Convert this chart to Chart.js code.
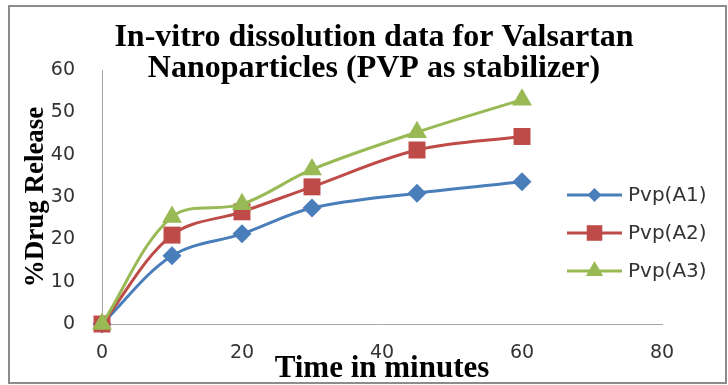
<!DOCTYPE html>
<html>
<head>
<meta charset="utf-8">
<script src="https://cdn.jsdelivr.net/npm/chart.js@4.4.1/dist/chart.umd.min.js"></script>
<style>
  html, body { margin: 0; padding: 0; background: #fff; }
  #wrap { width: 728px; height: 385px; position: relative; }
</style>
</head>
<body>
<div id="wrap"><canvas id="dissolution"></canvas></div>
<script>
// ---- data ----
const minutes = [0, 10, 20, 30, 45, 60];
const pvpA1 = [0, 16.1, 21.3, 27.4, 30.9, 33.6];
const pvpA2 = [0, 21.0, 26.5, 32.4, 41.1, 44.3];
const pvpA3 = [0, 25.3, 28.3, 36.5, 45.3, 53.0];
const seriesNames = ['Pvp(A1)', 'Pvp(A2)', 'Pvp(A3)'];
const titleLines = ['In-vitro dissolution data for Valsartan', 'Nanoparticles (PVP as stabilizer)'];

const BLUE = '#4a7ebb';
const RED = '#be4b48';
const GREEN = '#98b954';
const SERIF = '"Liberation Serif", "Times New Roman", serif';
const SANS = '"DejaVu Sans", sans-serif';

const toXY = ys => ys.map((y, i) => ({ x: minutes[i], y }));

const styles = [
  { color: BLUE, pointStyle: 'rectRot', radius: 9.5, legendRadius: 7 },
  { color: RED, pointStyle: 'rect', radius: 12, legendRadius: 11 },
  { color: GREEN, pointStyle: 'triangle', radius: 11.5, legendRadius: 10 },
];

const datasets = [pvpA1, pvpA2, pvpA3].map((ys, i) => ({
  label: seriesNames[i],
  data: toXY(ys),
  borderColor: styles[i].color,
  backgroundColor: styles[i].color,
  borderWidth: 3,
  tension: 0.35,
  pointStyle: styles[i].pointStyle,
  pointRadius: styles[i].radius,
  pointBorderWidth: 0,
  pointHoverRadius: styles[i].radius,
  clip: false,
  order: 3 - i,
}));

// title, legend and outer frame are drawn by hand so they can sit over the plot
const decorations = {
  id: 'decorations',
  afterDraw(chart) {
    const c = chart.ctx;
    c.save();

    c.strokeStyle = '#8c8c8c';
    c.lineWidth = 2;
    c.strokeRect(9, 6, 717, 377);

    c.fillStyle = '#000';
    c.font = 'bold 32px ' + SERIF;
    c.textAlign = 'center';
    c.textBaseline = 'middle';
    c.fillText(titleLines[0], 374, 38);
    c.fillText(titleLines[1], 374, 69);

    const rowY = [195, 233, 271];
    c.font = '20px ' + SANS;
    c.textAlign = 'left';
    chart.data.datasets.forEach((ds, i) => {
      const y = rowY[i];
      c.strokeStyle = ds.borderColor;
      c.lineWidth = 3;
      c.beginPath();
      c.moveTo(567, y);
      c.lineTo(622, y);
      c.stroke();
      c.fillStyle = ds.backgroundColor;
      Chart.helpers.drawPoint(c, {
        pointStyle: ds.pointStyle,
        radius: styles[i].legendRadius,
        rotation: 0,
        borderWidth: 0,
      }, 594.5, y);
      c.fillStyle = '#333';
      c.fillText(ds.label, 628, y + 1);
    });
    c.restore();
  }
};

new Chart(document.getElementById('dissolution'), {
  type: 'line',
  data: { datasets },
  options: {
    responsive: true,
    maintainAspectRatio: false,
    animation: false,
    layout: { padding: { left: 0, top: 70, right: 66, bottom: 0 } },
    scales: {
      x: {
        type: 'linear',
        min: 0,
        max: 80,
        ticks: { stepSize: 20, padding: 18, color: '#333', font: { family: SANS, size: 19 } },
        grid: { display: false, drawTicks: false },
        border: { display: true, color: '#a6a6a6', width: 1 },
        title: {
          display: true,
          text: 'Time in minutes',
          color: '#000',
          font: { family: SERIF, size: 31, weight: 'bold' },
          padding: { top: 0, bottom: -3 },
        },
        afterFit: s => { s.height = 61; },
      },
      y: {
        min: 0,
        max: 60,
        ticks: { stepSize: 10, padding: 27, color: '#333', font: { family: SANS, size: 19 } },
        grid: { display: false, drawTicks: false },
        border: { display: true, color: '#a6a6a6', width: 1 },
        title: {
          display: true,
          text: '%Drug Release',
          color: '#000',
          font: { family: SERIF, size: 27, weight: 'bold' },
          padding: { top: 20, bottom: 0 },
        },
        afterFit: s => { s.width = 102; },
      },
    },
    plugins: {
      legend: { display: false },
      title: { display: false },
      tooltip: { enabled: false },
    },
  },
  plugins: [decorations],
});
</script>
</body>
</html>
